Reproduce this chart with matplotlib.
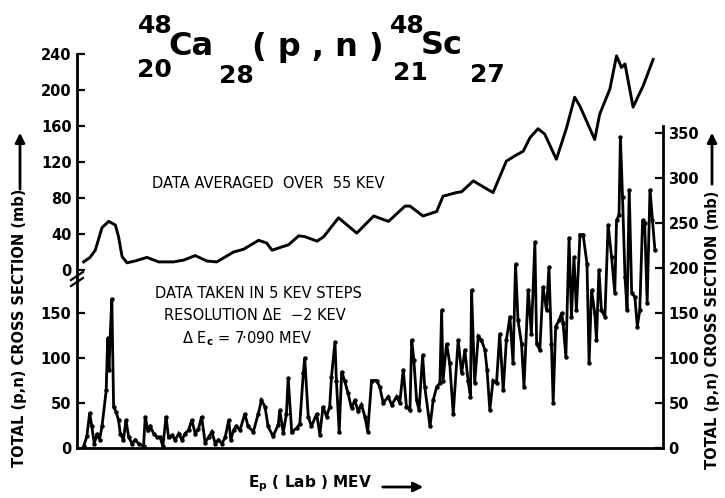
import numpy as np
import matplotlib
matplotlib.use("Agg")
import matplotlib.pyplot as plt
from matplotlib.patches import FancyArrowPatch

plt.rcParams["font.family"] = ["DejaVu Sans"]
plt.rcParams["font.weight"] = "bold"

W, H = 725, 498

# averaged over 55 keV (upper curve, left scale 0-240 mb)
E_AVG = [1.898, 1.916, 1.931, 1.950, 1.969, 1.988, 1.997, 2.007, 2.021, 2.044,
         2.078, 2.111, 2.153, 2.182, 2.215, 2.248, 2.276, 2.324, 2.352, 2.395,
         2.418, 2.433, 2.456, 2.480, 2.509, 2.527, 2.561, 2.580, 2.622, 2.674,
         2.722, 2.764, 2.811, 2.825, 2.862, 2.901, 2.919, 2.957, 2.972, 3.005,
         3.061, 3.099, 3.128, 3.147, 3.166, 3.189, 3.208, 3.241, 3.256, 3.270,
         3.293, 3.308, 3.350, 3.364, 3.393, 3.412, 3.426, 3.436, 3.459, 3.488,
         3.516]
XS_AVG = [9, 14, 22, 47, 54, 50, 37, 15, 8, 10,
          14, 9, 9, 11, 16, 10, 9, 20, 23, 33,
          30, 22, 25, 28, 38, 37, 32, 37, 58, 41,
          60, 54, 71, 71, 60, 65, 82, 86, 87, 99,
          86, 121, 128, 132, 147, 157, 151, 123, 141, 158,
          192, 182, 145, 173, 201, 238, 225, 229, 181, 205,
          234]

# 5 keV steps (lower curve, right scale 0-350 mb)
E_STEP = [1.898, 1.907, 1.915, 1.921, 1.928, 1.936, 1.943, 1.950, 1.962, 1.966,
          1.970, 1.973, 1.978, 1.983, 1.990, 1.997, 2.002, 2.011, 2.018, 2.026,
          2.035, 2.044, 2.054, 2.068, 2.073, 2.080, 2.087, 2.097, 2.106, 2.115,
          2.123, 2.132, 2.139, 2.149, 2.158, 2.168, 2.177, 2.186, 2.196, 2.205,
          2.215, 2.224, 2.233, 2.243, 2.253, 2.262, 2.272, 2.281, 2.291, 2.300,
          2.310, 2.316, 2.324, 2.331, 2.342, 2.356, 2.365, 2.380, 2.394, 2.403,
          2.413, 2.422, 2.436, 2.451, 2.455, 2.465, 2.474, 2.479, 2.489, 2.503,
          2.512, 2.522, 2.526, 2.536, 2.545, 2.560, 2.569, 2.578, 2.588, 2.597,
          2.602, 2.612, 2.616, 2.624, 2.631, 2.640, 2.649, 2.659, 2.668, 2.678,
          2.687, 2.697, 2.705, 2.716, 2.730, 2.739, 2.749, 2.763, 2.773, 2.787,
          2.796, 2.806, 2.815, 2.825, 2.830, 2.836, 2.844, 2.851, 2.861, 2.867,
          2.882, 2.891, 2.901, 2.910, 2.915, 2.919, 2.929, 2.938, 2.948, 2.962,
          2.972, 2.981, 2.990, 2.997, 3.000, 3.009, 3.019, 3.028, 3.038, 3.044,
          3.052, 3.061, 3.071, 3.080, 3.090, 3.099, 3.109, 3.118, 3.125, 3.132,
          3.142, 3.149, 3.161, 3.170, 3.180, 3.185, 3.194, 3.203, 3.213, 3.220,
          3.227, 3.232, 3.239, 3.249, 3.256, 3.260, 3.268, 3.277, 3.284, 3.291,
          3.298, 3.308, 3.317, 3.328, 3.334, 3.341, 3.350, 3.355, 3.362, 3.369,
          3.379, 3.388, 3.398, 3.407, 3.412, 3.419, 3.423, 3.429, 3.436, 3.442,
          3.448, 3.455, 3.464, 3.471, 3.478, 3.486, 3.492, 3.499, 3.507, 3.514,
          3.521]
XS_STEP = [2, 13, 39, 24, 5, 16, 9, 24, 64, 122,
           87, 122, 166, 46, 40, 31, 16, 9, 31, 12,
           5, 9, 5, 2, 35, 20, 24, 16, 12, 12,
           2, 35, 12, 14, 9, 16, 9, 16, 20, 31,
           16, 21, 35, 6, 12, 18, 5, 9, 5, 12,
           31, 9, 20, 24, 20, 38, 24, 18, 38, 53,
           46, 24, 13, 26, 42, 17, 38, 78, 18, 22,
           27, 83, 100, 35, 24, 38, 15, 46, 35, 46,
           79, 118, 75, 18, 85, 74, 61, 44, 53, 41,
           48, 35, 18, 75, 75, 68, 50, 57, 48, 57,
           50, 87, 46, 42, 120, 98, 53, 42, 103, 68,
           24, 53, 68, 72, 153, 75, 116, 94, 38, 120,
           83, 109, 75, 57, 176, 72, 124, 120, 109, 87,
           42, 75, 72, 127, 64, 120, 146, 94, 205, 142,
           116, 68, 176, 127, 229, 116, 109, 179, 153, 201,
           116, 50, 135, 142, 150, 139, 101, 233, 146, 212,
           153, 237, 237, 205, 94, 176, 150, 120, 198, 153,
           146, 248, 212, 172, 253, 259, 346, 279, 190, 153,
           287, 172, 168, 135, 153, 253, 250, 161, 287, 253,
           220]

X_TICKS = [1.90, 2.10, 2.30, 2.50, 2.70, 2.90, 3.10, 3.30, 3.50]
X_LABELS = ["1·90", "2·10", "2·30", "2·50", "2·70", "2·90", "3·10", "3·30", "3·50"]
LOW_TICKS = [0, 50, 100, 150]
AVG_TICKS = [0, 40, 80, 120, 160, 200, 240]
RIGHT_TICKS = [0, 50, 100, 150, 200, 250, 300, 350]

# scale: 0.9 px per mb on all y scales
PX_PER_MB = 0.9
Y_TOP = 428 / PX_PER_MB
AVG_ZERO = 178 / PX_PER_MB      # upper curve zero sits this high on the main scale


def fxy(x, y):
    return x / W, 1 - y / H


fig = plt.figure(figsize=(W / 100, H / 100), dpi=100)
ax = fig.add_axes([77 / W, 50 / H, 586 / W, 428 / H])
ax_u = ax.twinx()
ax_r = ax.twinx()

# --------------------------------------------------
# curves
# --------------------------------------------------

ax.plot(E_STEP, XS_STEP, color="black", lw=2.0, marker="o", ms=2.2,
        solid_joinstyle="miter")
ax_u.plot(E_AVG, XS_AVG, color="black", lw=2.1, clip_on=False)

ax.set_xlim(1.879, 3.544)
ax.set_ylim(0, Y_TOP)
ax_r.set_ylim(0, Y_TOP)
ax_u.set_ylim(-AVG_ZERO, Y_TOP - AVG_ZERO)

# --------------------------------------------------
# spines and ticks
# --------------------------------------------------

for a in (ax, ax_u, ax_r):
    for s in a.spines.values():
        s.set_visible(False)

ax.spines["left"].set_visible(True)
ax.spines["left"].set_bounds(0, AVG_ZERO + 240)
ax.spines["bottom"].set_visible(True)
ax_r.spines["right"].set_visible(True)
ax_r.spines["right"].set_bounds(0, 358)
for s in (ax.spines["left"], ax.spines["bottom"], ax_r.spines["right"]):
    s.set_linewidth(2.0)

ax.set_xticks(X_TICKS, labels=X_LABELS)
ax.set_yticks(LOW_TICKS)
ax_u.yaxis.tick_left()
ax_u.set_yticks(AVG_TICKS)
ax_u.set_xticks([])
ax_r.set_yticks(RIGHT_TICKS)

for a in (ax, ax_u, ax_r):
    a.tick_params(direction="in", length=6, width=1.6, labelsize=10.5, pad=4)
ax.tick_params(axis="x", pad=6)

# axis break mark on the left spine
for dy in (-3, 3):
    x0, y0 = fxy(71, 283 + dy)
    x1, y1 = fxy(83, 275 + dy)
    fig.add_artist(plt.Line2D([x0, x1], [y0, y1], color="black", lw=1.6))

# --------------------------------------------------
# axis titles
# --------------------------------------------------

ylab = "TOTAL (p,n) CROSS SECTION (mb)"
fig.text(*fxy(20, 328), ylab, rotation=90, ha="center", va="center",
         fontsize=10.5)
fig.text(*fxy(712, 330), ylab, rotation=90, ha="center", va="center",
         fontsize=10.5)

arrow = dict(arrowstyle="-|>", color="black", lw=2, mutation_scale=14)
fig.add_artist(FancyArrowPatch(fxy(20, 192), fxy(20, 130),
                               transform=fig.transFigure, **arrow))
fig.add_artist(FancyArrowPatch(fxy(712, 187), fxy(712, 130),
                               transform=fig.transFigure, **arrow))

fig.text(*fxy(310, 484), r"E$_{\rm p}$ ( Lab ) MEV", ha="center", va="center",
         fontsize=11)
fig.add_artist(FancyArrowPatch(fxy(380, 487), fxy(426, 487),
                               transform=fig.transFigure, **arrow))

# --------------------------------------------------
# title
# --------------------------------------------------

big, small = 23, 18
fig.text(*fxy(138, 33), "48", fontsize=small, va="baseline")
fig.text(*fxy(137, 77), "20", fontsize=small, va="baseline")
fig.text(*fxy(168, 55), "Ca", fontsize=big, va="baseline")
fig.text(*fxy(219, 83), "28", fontsize=small, va="baseline")
fig.text(*fxy(252, 56), "( p , n )", fontsize=big, va="baseline")
fig.text(*fxy(390, 33), "48", fontsize=small, va="baseline")
fig.text(*fxy(393, 80), "21", fontsize=small, va="baseline")
fig.text(*fxy(421, 54), "Sc", fontsize=big, va="baseline")
fig.text(*fxy(470, 82), "27", fontsize=small, va="baseline")

# --------------------------------------------------
# notes
# --------------------------------------------------

note = dict(ha="center", va="center", fontsize=10.5, fontweight="normal")
fig.text(*fxy(268, 183), "DATA AVERAGED  OVER  55 KEV", **note)
fig.text(*fxy(258, 294), "DATA TAKEN IN 5 KEV STEPS", **note)
fig.text(*fxy(255, 315), "RESOLUTION ΔE  −2 KEV", **note)
fig.text(*fxy(247, 339), r"Δ E$_{\rm c}$ = 7·090 MEV", **note)

fig.savefig("out.png", dpi=100)
